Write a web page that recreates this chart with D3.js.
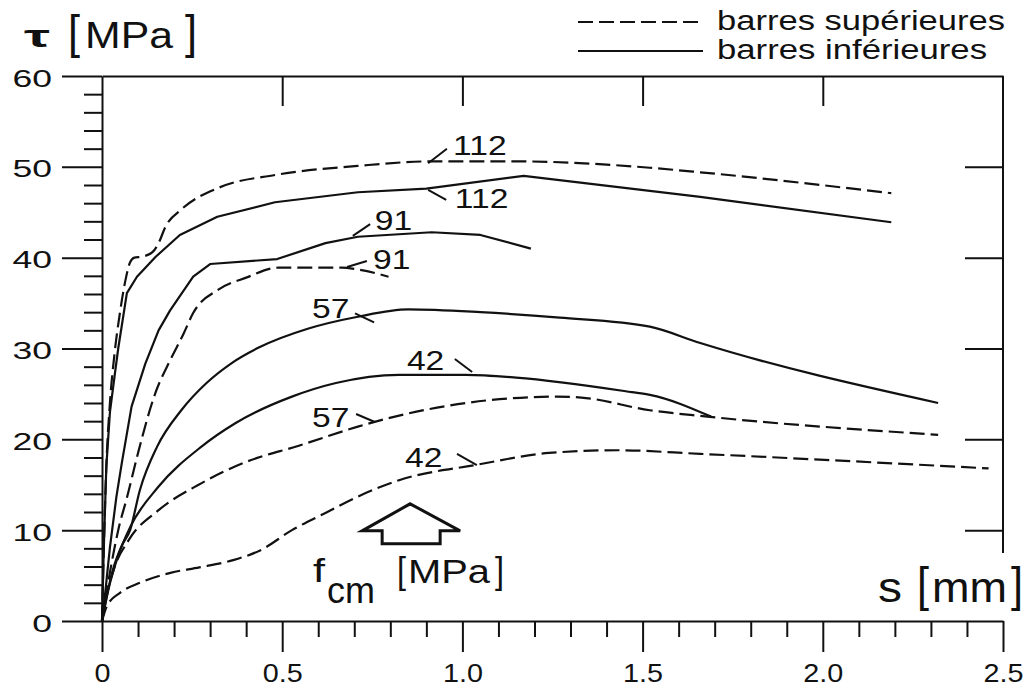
<!DOCTYPE html>
<html><head><meta charset="utf-8">
<script src="https://cdn.jsdelivr.net/npm/d3@7"></script>
<style>
html,body{margin:0;padding:0;background:#fff;}
svg{display:block;font-family:"Liberation Sans",Arial,Helvetica,sans-serif;}
</style></head><body>
<svg id="chart" width="1034" height="690"></svg>
<script>
// Bond stress tau [MPa] against slip s [mm], for bars cast at the top
// (barres supérieures, dashed) and at the bottom (barres inférieures, solid)
// of the specimen, at four concrete strengths f_cm [MPa].

const fcmLevels = [112, 91, 57, 42];

// barres inférieures (solid)
const sInf112   = [0, 0.005, 0.012, 0.022, 0.035, 0.045, 0.069, 0.097, 0.149, 0.216, 0.32, 0.48, 0.71, 0.90, 1.17, 1.66, 2.19];
const tauInf112 = [0, 8, 17, 23, 27, 30, 36.1, 37.9, 40.1, 42.5, 44.5, 46.1, 47.2, 47.6, 49.0, 46.7, 43.9];
const sInf91    = [0, 0.01, 0.022, 0.04, 0.055, 0.082, 0.12, 0.157, 0.189, 0.253, 0.30, 0.486, 0.62, 0.71, 0.915, 1.05, 1.19];
const tauInf91  = [0, 3.5, 8.1, 13.7, 17.4, 23.6, 28.3, 32.0, 34.2, 37.9, 39.3, 39.85, 41.6, 42.3, 42.8, 42.5, 41.0];
const sInf57    = [0, 0.012, 0.03, 0.055, 0.078, 0.105, 0.153, 0.22, 0.29, 0.36, 0.435, 0.573, 0.71, 0.85, 1.05, 1.27, 1.52, 1.66, 2.32];
const tauInf57  = [0, 2.5, 5.6, 8.3, 10.0, 14.4, 19.2, 23.2, 26.2, 28.4, 30.1, 32.2, 33.5, 34.3, 34.0, 33.4, 32.4, 30.6, 24.0];
const sInf42    = [0, 0.018, 0.045, 0.079, 0.157, 0.276, 0.371, 0.527, 0.649, 0.824, 1.01, 1.149, 1.47, 1.52, 1.69];
const tauInf42  = [0, 3.5, 7.2, 10.4, 14.8, 19.2, 21.8, 24.7, 26.2, 27.1, 27.1, 26.8, 25.2, 24.9, 22.5];

// barres supérieures (dashed)
const sSup112   = [0, 0.005, 0.012, 0.022, 0.035, 0.05, 0.065, 0.078, 0.09, 0.11, 0.14, 0.157, 0.176, 0.22, 0.324, 0.48, 0.71, 0.915, 1.15, 1.52, 1.66, 2.19];
const tauSup112 = [0, 8, 17, 24, 29.5, 34, 37.5, 39.5, 40.0, 40.1, 40.6, 41.6, 43.4, 45.3, 47.7, 49.1, 50.1, 50.6, 50.6, 49.9, 49.4, 47.1];
const sSup91    = [0, 0.01, 0.024, 0.045, 0.07, 0.10, 0.149, 0.189, 0.226, 0.253, 0.324, 0.40, 0.49, 0.665, 0.71, 0.795];
const tauSup91  = [0, 2.5, 5.8, 10.0, 13.7, 18.5, 25.2, 28.7, 31.6, 33.9, 36.5, 37.8, 38.9, 38.9, 38.7, 37.9];
const sSup57    = [0, 0.01, 0.032, 0.074, 0.157, 0.268, 0.399, 0.546, 0.71, 0.754, 1.01, 1.26, 1.33, 1.52, 1.68, 2.32];
const tauSup57  = [0, 2.3, 5.6, 8.9, 12.2, 15.0, 17.5, 19.3, 21.4, 21.9, 24.0, 24.7, 24.6, 23.2, 22.5, 20.5];
const sSup42    = [0, 0.013, 0.05, 0.105, 0.19, 0.27, 0.364, 0.44, 0.527, 0.62, 0.71, 0.824, 1.04, 1.24, 1.43, 1.66, 2.46];
const tauSup42  = [0, 1.6, 3.1, 4.2, 5.3, 5.9, 6.7, 7.8, 10.0, 11.9, 13.7, 15.5, 17.2, 18.5, 18.8, 18.4, 16.8];

// axis ticks
const xTickValues = [0, 0.5, 1.0, 1.5, 2.0, 2.5];
const xTickLabels = ["0", "0.5", "1.0", "1.5", "2.0", "2.5"];
const yTickValues = [0, 10, 20, 30, 40, 50, 60];
const yTickLabels = ["0", "10", "20", "30", "40", "50", "60"];

// curve labels: text, position of the label (s, tau) and its leader line
const labelText  = ["112", "112", "91", "91", "57", "42", "57", "42"];
const labelS     = [0.974, 0.979, 0.757, 0.752, 0.583, 0.846, 0.583, 0.841];
const labelTau   = [51.3, 45.5, 43.0, 38.75, 33.4, 27.6, 21.4, 17.0];
const leaderS0   = [0.905, 0.905, 0.696, 0.680, 0.702, 0.979, 0.705, 0.985];
const leaderTau0 = [50.4, 47.45, 42.4, 38.97, 33.86, 28.84, 22.79, 18.39];
const leaderS1   = [0.957, 0.955, 0.744, 0.735, 0.755, 1.027, 0.757, 1.040];
const leaderTau1 = [52.0, 46.35, 43.7, 39.63, 32.87, 27.41, 21.91, 17.17];

const legendLabels = ["barres supérieures", "barres inférieures"];

const series = [
  {fcm: fcmLevels[0], pos: "sup", s: sSup112, tau: tauSup112, smooth: true},
  {fcm: fcmLevels[0], pos: "inf", s: sInf112, tau: tauInf112, smooth: false},
  {fcm: fcmLevels[1], pos: "sup", s: sSup91,  tau: tauSup91,  smooth: true},
  {fcm: fcmLevels[1], pos: "inf", s: sInf91,  tau: tauInf91,  smooth: false},
  {fcm: fcmLevels[2], pos: "sup", s: sSup57,  tau: tauSup57,  smooth: true},
  {fcm: fcmLevels[2], pos: "inf", s: sInf57,  tau: tauInf57,  smooth: true},
  {fcm: fcmLevels[3], pos: "sup", s: sSup42,  tau: tauSup42,  smooth: true},
  {fcm: fcmLevels[3], pos: "inf", s: sInf42,  tau: tauInf42,  smooth: true}
];

const svg = d3.select("#chart");
const x = d3.scaleLinear().domain([0, 2.5]).range([102, 1003]);
const y = d3.scaleLinear().domain([0, 60]).range([621, 76]);
const DASH = "15,6";
const SW = 2.2;

// stretch text horizontally to the wide lettering of the figure
function stretch(sel, sx) {
  sel.each(function () {
    const w = this.getComputedTextLength();
    d3.select(this).attr("textLength", w * sx).attr("lengthAdjust", "spacingAndGlyphs");
  });
}
function label(x0, baseline, str, size, width, weight) {
  return svg.append("text")
    .attr("x", x0).attr("y", baseline)
    .attr("font-size", size)
    .attr("font-weight", weight || "normal")
    .attr("textLength", width).attr("lengthAdjust", "spacingAndGlyphs")
    .attr("fill", "#111")
    .text(str);
}

const xMinor = d3.range(1, 25).filter(i => i % 5 !== 0).map(i => i / 10);
const yMinor = d3.range(1, 30).filter(i => i % 5 !== 0).map(i => i * 2);

function styleAxis(g) {
  g.selectAll("line").attr("stroke", "#111").attr("stroke-width", 2);
  g.selectAll("path.domain").attr("stroke", "#111").attr("stroke-width", 2);
}

// left axis
const gLeft = svg.append("g").attr("transform", `translate(${x(0)},0)`)
  .call(d3.axisLeft(y).tickValues(yTickValues).tickFormat((d, i) => yTickLabels[i])
    .tickSize(40).tickSizeOuter(0).tickPadding(10));
gLeft.selectAll("text").attr("font-size", 24).attr("fill", "#111").attr("font-family", null)
  .attr("dy", "0.42em");
stretch(gLeft.selectAll("text"), 1.48);
styleAxis(gLeft);
const gLeftMinor = svg.append("g").attr("transform", `translate(${x(0)},0)`)
  .call(d3.axisLeft(y).tickValues(yMinor).tickSize(18).tickFormat(""));
gLeftMinor.select(".domain").remove();
styleAxis(gLeftMinor);

// bottom axis
const gBottom = svg.append("g").attr("transform", `translate(0,${y(0)})`)
  .call(d3.axisBottom(x).tickValues(xTickValues).tickFormat((d, i) => xTickLabels[i])
    .tickSize(31).tickSizeOuter(0).tickPadding(12));
gBottom.selectAll("text").attr("font-size", 25).attr("fill", "#111").attr("font-family", null);
stretch(gBottom.selectAll("text"), 1.15);
styleAxis(gBottom);
const gBottomMinor = svg.append("g").attr("transform", `translate(0,${y(0)})`)
  .call(d3.axisBottom(x).tickValues(xMinor).tickSize(16).tickFormat(""));
gBottomMinor.select(".domain").remove();
styleAxis(gBottomMinor);

// top frame with inward ticks
const gTop = svg.append("g").attr("transform", `translate(0,${y(60)})`)
  .call(d3.axisTop(x).tickValues([0.5, 1.0, 1.5, 2.0]).tickSize(-30).tickSizeOuter(0).tickFormat(""));
styleAxis(gTop);

// right frame, open near the axis title, with inward ticks
const gRight = svg.append("g").attr("transform", `translate(${x(2.5)},0)`)
  .call(d3.axisRight(y).tickValues([10, 20, 30, 40, 50]).tickSize(-38).tickFormat(""));
gRight.select(".domain").remove();
styleAxis(gRight);
svg.append("line").attr("x1", x(2.5)).attr("x2", x(2.5)).attr("y1", y(60)).attr("y2", y(7.5))
  .attr("stroke", "#111").attr("stroke-width", 2);

// curves
const lineSmooth = d3.line().x(d => x(d[0])).y(d => y(d[1])).curve(d3.curveMonotoneX);
const lineSharp = d3.line().x(d => x(d[0])).y(d => y(d[1])).curve(d3.curveLinear);
svg.append("g").selectAll("path").data(series).join("path")
  .attr("d", d => (d.smooth ? lineSmooth : lineSharp)(d.s.map((v, i) => [v, d.tau[i]])))
  .attr("fill", "none").attr("stroke", "#111").attr("stroke-width", SW)
  .attr("stroke-linejoin", "round")
  .attr("stroke-dasharray", d => d.pos === "sup" ? DASH : null);

// curve labels with leader lines
const gLab = svg.append("g");
labelText.forEach((t, i) => {
  gLab.append("line")
    .attr("x1", x(leaderS0[i])).attr("y1", y(leaderTau0[i]))
    .attr("x2", x(leaderS1[i])).attr("y2", y(leaderTau1[i]))
    .attr("stroke", "#111").attr("stroke-width", 2);
  const tx = gLab.append("text").attr("x", x(labelS[i])).attr("y", y(labelTau[i]))
    .attr("font-size", 28).attr("fill", "#111").text(t);
  stretch(tx, 1.2);
});

// f_cm arrow
const tipX = x(0.855), tipY = y(12.9);
const arrow = [[0, 0], [50, 27], [30, 27], [30, 40], [-28, 40], [-28, 27], [-48, 27]];
svg.append("path")
  .attr("d", "M" + arrow.map(p => [tipX + p[0], tipY + p[1]].join(",")).join("L") + "Z")
  .attr("fill", "#fff").attr("stroke", "#111").attr("stroke-width", 3).attr("stroke-linejoin", "miter");

// f_cm [MPa]
label(313, 582, "f", 34, 12);
label(327, 603, "cm", 36, 48);
label(397, 583, "[", 36, 9);
label(408, 583, "MPa", 34, 82);
label(495, 583, "]", 36, 9);

// axis titles
label(24, 47, "τ", 32, 26, "bold");
label(68, 48, "[", 46, 12);
label(85, 48, "MPa", 37, 88);
label(185, 48, "]", 46, 12);

label(878, 602, "s", 42, 24);
label(917, 601, "[", 48, 12);
label(932, 602, "mm", 42, 75);
label(1011, 601, "]", 48, 12);

// legend
const legY = [22, 51];
legendLabels.forEach((t, i) => {
  svg.append("line").attr("x1", 578).attr("x2", 703).attr("y1", legY[i]).attr("y2", legY[i])
    .attr("stroke", "#111").attr("stroke-width", SW)
    .attr("stroke-dasharray", i === 0 ? DASH : null);
  label(717, legY[i] + 8, t, 27, i === 0 ? 288 : 270);
});
</script>
</body></html>
